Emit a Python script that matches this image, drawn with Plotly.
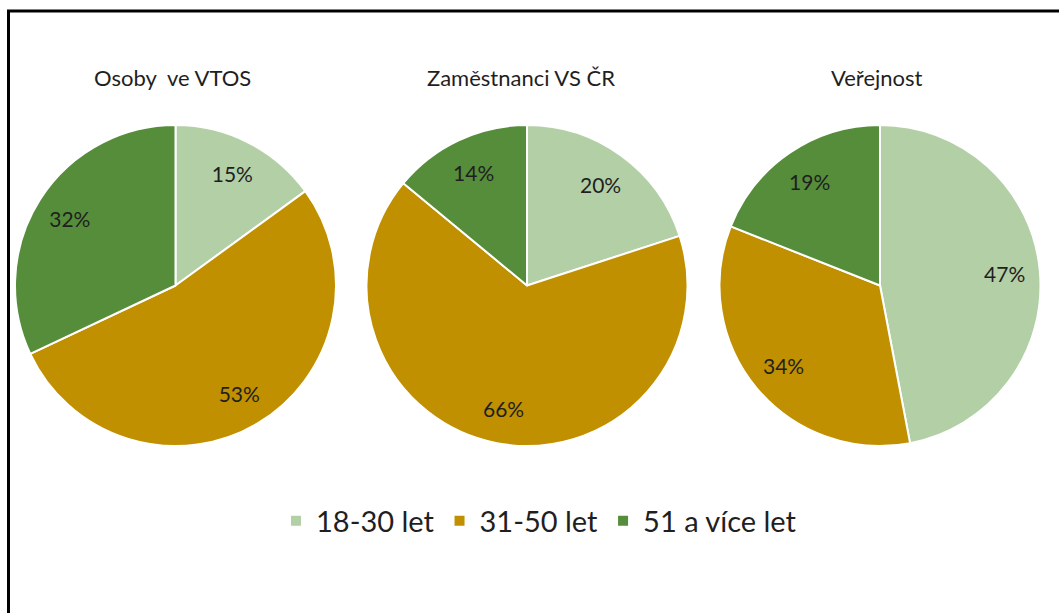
import plotly.graph_objects as go

categories = ["18-30 let", "31-50 let", "51 a více let"]
titles = ["Osoby  ve VTOS", "Zaměstnanci VS ČR", "Veřejnost"]
vtos = [15, 53, 32]
zamestnanci = [20, 66, 14]
verejnost = [47, 34, 19]
colors = ["#B3CFA6", "#C09000", "#568D3A"]

W, H = 1059, 613
FONT = "Lato, Open Sans, sans-serif"
TXT = "#1f1f1f"
series = [vtos, zamestnanci, verejnost]
centers_x = [175.5, 527, 880]
title_x = [172, 521, 877]
cy = 285.5
R = 160.5

fig = go.Figure()
for i, (vals, cx) in enumerate(zip(series, centers_x)):
    dom = dict(x=[(cx - R) / W, (cx + R) / W], y=[1 - (cy + R) / H, 1 - (cy - R) / H])
    # full pie (fill + white separators)
    fig.add_trace(go.Pie(
        labels=categories, values=vals, sort=False, direction="clockwise", rotation=0,
        marker=dict(colors=colors, line=dict(color="white", width=2)),
        textinfo="none", domain=dom, showlegend=(i == 0), hoverinfo="label+percent",
    ))
    # transparent ring on top carrying the labels at ~0.78 R
    fig.add_trace(go.Pie(
        labels=categories, values=vals, sort=False, direction="clockwise", rotation=0,
        hole=0.56,
        marker=dict(colors=["rgba(0,0,0,0)"] * 3, line=dict(width=0)),
        texttemplate="%{value}%", textposition="inside",
        insidetextorientation="horizontal",
        textfont=dict(family=FONT, size=21, color=TXT),
        domain=dom, showlegend=False, hoverinfo="skip",
    ))
    fig.add_annotation(
        x=title_x[i] / W, y=1 - 77 / H, xref="paper", yref="paper",
        xanchor="center", yanchor="middle",
        text=titles[i], showarrow=False,
        font=dict(family=FONT, size=22, color=TXT),
    )

fig.add_shape(type="line", xref="paper", yref="paper",
              x0=7 / W, x1=1.0, y0=1 - 11 / H, y1=1 - 11 / H,
              line=dict(color="black", width=3))
fig.add_shape(type="line", xref="paper", yref="paper",
              x0=8.5 / W, x1=8.5 / W, y0=1 - 10 / H, y1=0,
              line=dict(color="black", width=3))

fig.update_layout(
    width=W, height=H,
    margin=dict(l=0, r=0, t=0, b=0),
    paper_bgcolor="white",
    plot_bgcolor="white",
    legend=dict(
        orientation="h",
        x=539 / W, xanchor="center",
        y=1 - 521 / H, yanchor="middle",
        font=dict(family=FONT, size=29, color=TXT),
        traceorder="normal",
    ),
)

fig.write_html("out.html", config={"displayModeBar": False},
               post_script="document.body.style.margin='0';")
